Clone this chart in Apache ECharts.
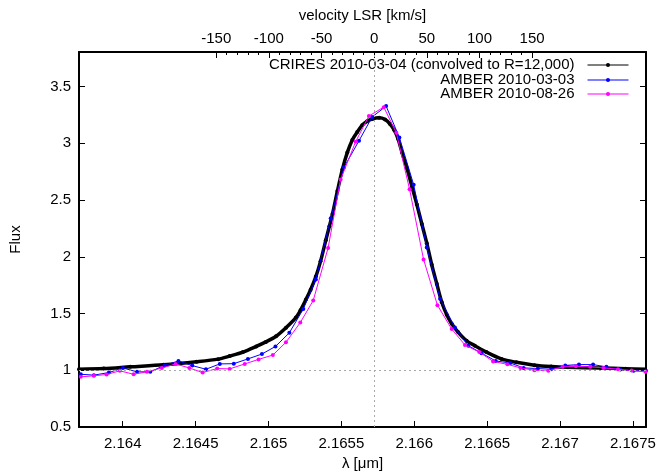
<!DOCTYPE html>
<html><head><meta charset="utf-8">
<script src="https://cdn.jsdelivr.net/npm/echarts@6/dist/echarts.min.js"></script>
<style>html,body{margin:0;padding:0;background:#fff}#c{width:659px;height:476px}</style>
</head><body><div id="c"></div>
<script>
// ---- data ----
const seriesNames = ['CRIRES 2010-03-04 (convolved to R=12,000)', 'AMBER 2010-03-03', 'AMBER 2010-08-26'];

const crLambda = [2.163700,2.163870,2.164052,2.164280,2.164507,2.164655,2.164734,2.164825,2.164916,2.164982,
  2.165052,2.165120,2.165188,2.165220,2.165257,2.165289,2.165325,2.165357,2.165393,2.165418,
  2.165439,2.165473,2.165507,2.165541,2.165575,2.165609,2.165643,2.165677,2.165711,2.165759,
  2.165800,2.165834,2.165861,2.165889,2.165916,2.165950,2.165984,2.166018,2.166052,2.166086,
  2.166120,2.166155,2.166189,2.166223,2.166257,2.166302,2.166359,2.166416,2.166495,2.166598,
  2.166700,2.166825,2.166939,2.167055,2.167280,2.167450,2.167593];
const crFlux = [1.009,1.015,1.030,1.048,1.075,1.098,1.125,1.160,1.210,1.250,
  1.300,1.375,1.464,1.530,1.623,1.710,1.826,1.960,2.145,2.270,
  2.377,2.580,2.770,2.920,3.030,3.100,3.160,3.195,3.215,3.225,
  3.210,3.170,3.120,3.040,2.920,2.780,2.620,2.460,2.290,2.120,
  1.930,1.760,1.600,1.490,1.410,1.334,1.260,1.217,1.160,1.100,
  1.070,1.045,1.033,1.026,1.020,1.014,1.009];

const a1Lambda = [2.163712,2.163802,2.163905,2.164002,2.164098,2.164189,2.164286,2.164382,2.164477,2.164571,
  2.164666,2.164762,2.164859,2.164955,2.165048,2.165143,2.165239,2.165325,2.165427,2.165518,
  2.165621,2.165711,2.165807,2.165898,2.165996,2.166086,2.166177,2.166279,2.166371,2.166461,
  2.166559,2.166659,2.166750,2.166848,2.166939,2.167036,2.167130,2.167227,2.167318,2.167414,
  2.167505,2.167590];
const a1Flux = [0.965,0.957,0.980,1.020,0.986,0.986,1.043,1.082,1.041,1.009,
  1.056,1.058,1.100,1.143,1.210,1.330,1.540,1.800,2.339,2.789,
  3.023,3.232,3.328,3.052,2.635,2.082,1.630,1.377,1.217,1.151,
  1.082,1.064,1.021,1.015,1.009,1.043,1.050,1.050,1.030,1.006,
  0.995,0.995];

const a2Lambda = [2.163712,2.163802,2.163889,2.163980,2.164075,2.164166,2.164268,2.164363,2.164457,2.164548,
  2.164648,2.164734,2.164837,2.164932,2.165030,2.165120,2.165218,2.165307,2.165409,2.165495,
  2.165598,2.165689,2.165791,2.165877,2.165968,2.166064,2.166159,2.166257,2.166348,2.166446,
  2.166541,2.166639,2.166729,2.166825,2.166920,2.167018,2.167109,2.167207,2.167298,2.167398,
  2.167491,2.167586];
const a2Flux = [0.942,0.951,0.963,0.995,0.965,0.986,1.020,1.056,1.020,0.980,
  1.015,1.012,1.056,1.096,1.134,1.247,1.420,1.615,2.078,2.682,
  3.015,3.241,3.319,3.093,2.595,1.977,1.574,1.363,1.223,1.160,
  1.078,1.052,1.021,1.000,0.995,1.030,1.035,1.030,1.021,1.009,
  0.997,0.986];

const lambdaTicks = [2.164, 2.1645, 2.165, 2.1655, 2.166, 2.1665, 2.167, 2.1675];
const fluxTicks = [0.5, 1, 1.5, 2, 2.5, 3, 3.5];
const velocityTicks = [-150, -100, -50, 0, 50, 100, 150];
const velocityMinorTicks = [-150,-140,-130,-120,-110,-100,-90,-80,-70,-60,-50,-40,-30,-20,-10,0,
  10,20,30,40,50,60,70,80,90,100,110,120,130,140,150];
const lambdaRange = [2.1637, 2.16759];
const fluxRange = [0.5, 3.805];
const lambdaZero = 2.165725;   // wavelength of velocity 0
const continuumLevel = 1;
const SPEED_C = 299792.458;

// ---- chart ----
const FONT = "'Liberation Sans', Arial, sans-serif";
const FS = 15;
const vMin = SPEED_C * (lambdaRange[0] - lambdaZero) / lambdaZero;
const vMax = SPEED_C * (lambdaRange[1] - lambdaZero) / lambdaZero;
const pairs = (xs, ys) => xs.map((x, i) => [x, ys[i]]);
const frameLine = { show: true, lineStyle: { color: '#000', width: 2 } };
const colors = ['#000000', '#0000ff', '#ff00ff'];
const refLineStyle = { color: '#aaaaaa', type: [2, 3], width: 1 };

const chart = echarts.init(document.getElementById('c'), null, { renderer: 'canvas' });
const legendTops = [57.5, 72.5, 86.5];
chart.setOption({
  animation: false,
  textStyle: { fontFamily: FONT, fontSize: FS, color: '#000' },
  grid: { left: 75, right: 13, top: 52, bottom: 47, containLabel: false },
  legend: seriesNames.map((n, i) => ({
    data: [n], right: 30, top: legendTops[i], orient: 'vertical', align: 'right',
    padding: 0, itemWidth: 41, itemHeight: 5, selectedMode: false,
    textStyle: { fontFamily: FONT, fontSize: FS, color: '#000', padding: [0, 8, 0, 0] },
    lineStyle: { width: 1 }
  })),
  xAxis: [
    { type: 'value', position: 'bottom', min: lambdaRange[0], max: lambdaRange[1],
      name: 'λ [μm]', nameLocation: 'middle', nameGap: 29,
      nameTextStyle: { fontFamily: FONT, fontSize: FS, color: '#000' },
      axisLine: { ...frameLine, onZero: false },
      axisTick: { show: true, inside: true, length: 6, customValues: lambdaTicks, lineStyle: { color: '#000', width: 1 } },
      axisLabel: { customValues: lambdaTicks, margin: 9, fontFamily: FONT, fontSize: FS, color: '#000',
        formatter: v => String(+(+v).toFixed(4)) },
      splitLine: { show: false } },
    { type: 'value', position: 'top', min: vMin, max: vMax,
      name: 'velocity LSR [km/s]', nameLocation: 'middle', nameGap: 29,
      nameTextStyle: { fontFamily: FONT, fontSize: FS, color: '#000' },
      axisLine: { ...frameLine, onZero: false },
      axisTick: { show: true, inside: true, length: 6, customValues: velocityTicks, lineStyle: { color: '#000', width: 1 } },
      axisLabel: { customValues: velocityTicks, margin: 6, fontFamily: FONT, fontSize: FS, color: '#000',
        formatter: v => String(Math.round(v)) },
      splitLine: { show: false } },
    { type: 'value', position: 'top', min: vMin, max: vMax,
      axisLine: { show: false, onZero: false },
      axisTick: { show: true, inside: true, length: 3, customValues: velocityMinorTicks, lineStyle: { color: '#000', width: 1 } },
      axisLabel: { show: false },
      splitLine: { show: false } }
  ],
  yAxis: [
    { type: 'value', position: 'left', min: fluxRange[0], max: fluxRange[1],
      name: 'Flux', nameLocation: 'middle', nameGap: 56, nameRotate: 90,
      nameTextStyle: { fontFamily: FONT, fontSize: FS, color: '#000' },
      axisLine: { ...frameLine, onZero: false },
      axisTick: { show: true, inside: true, length: 6, customValues: fluxTicks, lineStyle: { color: '#000', width: 1 } },
      axisLabel: { customValues: fluxTicks, margin: 8, fontFamily: FONT, fontSize: FS, color: '#000',
        formatter: v => String(+(+v).toFixed(1)) },
      splitLine: { show: false } },
    { type: 'value', position: 'right', min: fluxRange[0], max: fluxRange[1],
      axisLine: { ...frameLine, onZero: false },
      axisTick: { show: true, inside: true, length: 6, customValues: fluxTicks, lineStyle: { color: '#000', width: 1 } },
      axisLabel: { show: false },
      splitLine: { show: false } }
  ],
  series: [
    { name: 'refs', type: 'line', xAxisIndex: 0, yAxisIndex: 0, data: [],
      silent: true, z: 1,
      markLine: { silent: true, symbol: 'none', label: { show: false }, animation: false,
        lineStyle: refLineStyle,
        data: [
          [{ coord: [lambdaRange[0], continuumLevel] }, { coord: [lambdaRange[1], continuumLevel] }],
          [{ coord: [lambdaZero, fluxRange[0]] }, { coord: [lambdaZero, fluxRange[1]] }]
        ] } },
    { name: seriesNames[0], type: 'line', xAxisIndex: 0, yAxisIndex: 0,
      data: pairs(crLambda, crFlux), smooth: 0.3,
      symbol: 'circle', symbolSize: 4, showAllSymbol: true,
      itemStyle: { color: colors[0] }, lineStyle: { color: colors[0], width: 3.5 },
      z: 2 },
    { name: seriesNames[1], type: 'line', xAxisIndex: 0, yAxisIndex: 0,
      data: pairs(a1Lambda, a1Flux),
      symbol: 'circle', symbolSize: 4, showAllSymbol: true,
      itemStyle: { color: colors[1] }, lineStyle: { color: colors[1], width: 1 }, z: 3 },
    { name: seriesNames[2], type: 'line', xAxisIndex: 0, yAxisIndex: 0,
      data: pairs(a2Lambda, a2Flux),
      symbol: 'circle', symbolSize: 4, showAllSymbol: true,
      itemStyle: { color: colors[2] }, lineStyle: { color: colors[2], width: 1 }, z: 4 }
  ]
});
</script>
</body></html>
